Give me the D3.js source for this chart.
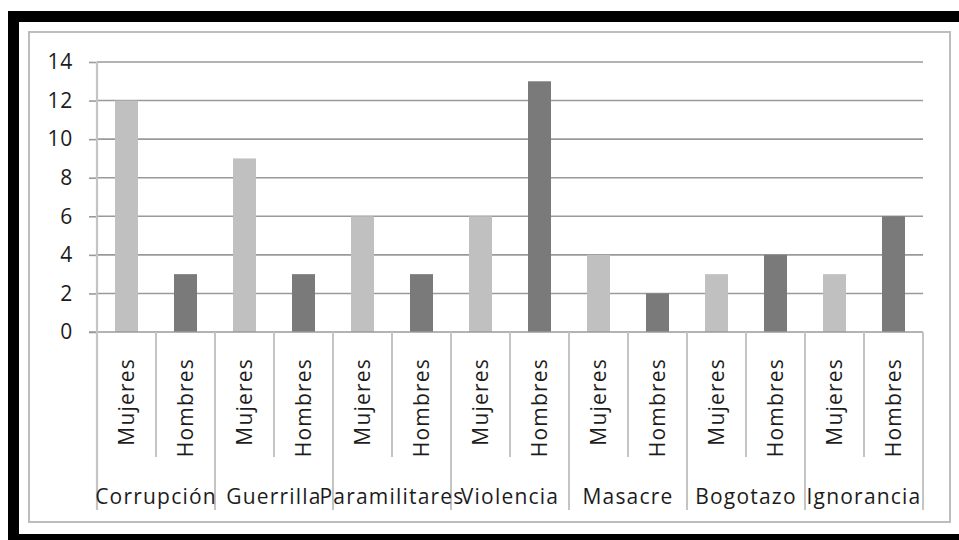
<!DOCTYPE html>
<html>
<head>
<meta charset="utf-8">
<script src="https://cdn.jsdelivr.net/npm/d3@7"></script>
<style>
  html, body { margin: 0; padding: 0; background: #fff; }
  svg { display: block; }
  text { font-family: "Open Sans", "DejaVu Sans", sans-serif; fill: #1c1c1c; }
</style>
</head>
<body>
<svg id="chart" width="959" height="540"></svg>
<script>
// Respuestas por tema y sexo
const groups = ["Corrupción", "Guerrilla", "Paramilitares", "Violencia", "Masacre", "Bogotazo", "Ignorancia"];
const sexes = ["Mujeres", "Hombres"];
const mujeres = [12, 9, 6, 6, 4, 3, 3];
const hombres = [3, 3, 3, 13, 2, 4, 6];
const yTicks = [0, 2, 4, 6, 8, 10, 12, 14];

const colors = { Mujeres: "#c0c0c0", Hombres: "#7a7a7a" };

const svg = d3.select("#chart");

// outer black frame and inner chart-area border
svg.append("rect")
  .attr("x", 13.5).attr("y", 16.5)
  .attr("width", 970).attr("height", 523)
  .attr("fill", "none").attr("stroke", "#000").attr("stroke-width", 11);
svg.append("rect")
  .attr("x", 29).attr("y", 32)
  .attr("width", 921).attr("height", 490)
  .attr("fill", "#fff").attr("stroke", "#bdbdbd").attr("stroke-width", 2);

const plot = { left: 97, right: 923, top: 62, bottom: 332 };

// one slot per (tema, sexo) pair
const rows = [];
groups.forEach((g, i) => {
  rows.push({ group: g, sex: sexes[0], value: mujeres[i], key: g + "|" + sexes[0] });
  rows.push({ group: g, sex: sexes[1], value: hombres[i], key: g + "|" + sexes[1] });
});

const x = d3.scaleBand().domain(rows.map(d => d.key)).range([plot.left, plot.right]);
const xg = d3.scaleBand().domain(groups).range([plot.left, plot.right]);
const y = d3.scaleLinear().domain([0, 14]).range([plot.bottom, plot.top]);

// horizontal gridlines
svg.append("g").selectAll("line").data(yTicks.filter(t => t > 0)).join("line")
  .attr("x1", plot.left).attr("x2", plot.right)
  .attr("y1", d => y(d)).attr("y2", d => y(d))
  .attr("stroke", "#9a9a9a").attr("stroke-width", 1.6);

// y axis
const yAxis = svg.append("g").attr("transform", `translate(${plot.left},0)`)
  .call(d3.axisLeft(y).tickValues(yTicks).tickSize(8).tickPadding(16));
yAxis.select(".domain").remove();
yAxis.selectAll(".tick line").attr("stroke", "#9a9a9a").attr("stroke-width", 1.6);
yAxis.selectAll(".tick text").attr("font-size", 21).attr("fill", "#1c1c1c")
  .attr("font-family", "'Open Sans', sans-serif").attr("letter-spacing", 0.8);

// bars
const bw = 23;
svg.append("g").selectAll("rect").data(rows).join("rect")
  .attr("x", d => x(d.key) + x.bandwidth() / 2 - bw / 2)
  .attr("width", bw)
  .attr("y", d => y(d.value))
  .attr("height", d => y(0) - y(d.value))
  .attr("fill", d => colors[d.sex]);

// x baseline
svg.append("line")
  .attr("x1", plot.left - 8).attr("x2", plot.right)
  .attr("y1", y(0)).attr("y2", y(0))
  .attr("stroke", "#9a9a9a").attr("stroke-width", 1.6);

// vertical axis line and category separators
const axisCol = "#c4c4c4";
svg.append("line")
  .attr("x1", plot.left).attr("x2", plot.left).attr("y1", plot.top).attr("y2", 510)
  .attr("stroke", axisCol).attr("stroke-width", 2.2);
const innerSeps = rows.filter(d => d.sex === sexes[1]).map(d => x(d.key));
svg.append("g").selectAll("line").data(innerSeps).join("line")
  .attr("x1", d => d).attr("x2", d => d)
  .attr("y1", plot.bottom).attr("y2", 457)
  .attr("stroke", axisCol).attr("stroke-width", 2);
const outerSeps = groups.map(g => xg(g) + xg.bandwidth());
svg.append("g").selectAll("line").data(outerSeps).join("line")
  .attr("x1", d => d).attr("x2", d => d)
  .attr("y1", plot.bottom).attr("y2", 510)
  .attr("stroke", axisCol).attr("stroke-width", 2);

// rotated sex labels
svg.append("g").selectAll("text").data(rows).join("text")
  .attr("transform", d => `translate(${x(d.key) + x.bandwidth() / 2},358) rotate(-90)`)
  .attr("text-anchor", "end")
  .attr("dy", "0.36em")
  .attr("font-size", 21)
  .attr("letter-spacing", 1.2)
  .text(d => d.sex);

// group labels
svg.append("g").selectAll("text").data(groups).join("text")
  .attr("x", d => xg(d) + xg.bandwidth() / 2)
  .attr("y", 504)
  .attr("text-anchor", "middle")
  .attr("font-size", 21)
  .attr("letter-spacing", 1.2)
  .text(d => d);
</script>
</body>
</html>
